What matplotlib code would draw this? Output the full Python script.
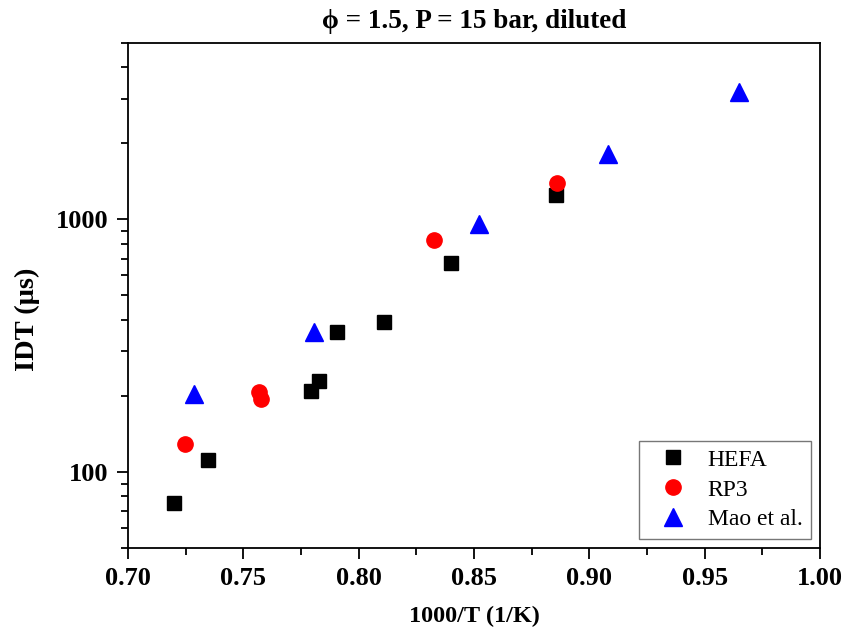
import matplotlib.pyplot as plt
from matplotlib.ticker import LogLocator, FixedLocator, NullFormatter, FuncFormatter

# HEFA measurements
hefa_x = [0.720, 0.7347, 0.7793, 0.7828, 0.7906, 0.811, 0.840, 0.8856]
hefa_y = [75.5, 111.5, 210, 230, 359, 393, 671, 1254]

# RP3 measurements
rp3_x = [0.7247, 0.7568, 0.7576, 0.8327, 0.886]
rp3_y = [129, 208, 194, 832, 1390]

# Mao et al.
mao_x = [0.7285, 0.7805, 0.852, 0.9079, 0.9648]
mao_y = [203, 359, 956, 1824, 3210]

x_ticks = [0.70, 0.75, 0.80, 0.85, 0.90, 0.95, 1.00]

plt.rcParams["font.family"] = ["Liberation Serif", "DejaVu Serif"]

fig = plt.figure(figsize=(8.48, 6.31), dpi=100)
ax = fig.add_axes([0.151, 0.1315, 0.816, 0.8005])

ax.plot(hefa_x, hefa_y, "s", color="black", markersize=10, label="HEFA", linestyle="none")
ax.plot(rp3_x, rp3_y, "o", color="red", markersize=11, label="RP3", linestyle="none")
ax.plot(mao_x, mao_y, "^", color="blue", markersize=13, label="Mao et al.", linestyle="none")

ax.set_yscale("log")
ax.set_xlim(0.70, 1.00)
ax.set_ylim(50, 5000)

ax.xaxis.set_major_locator(FixedLocator(x_ticks))
ax.xaxis.set_minor_locator(FixedLocator([0.725, 0.775, 0.825, 0.875, 0.925, 0.975]))
ax.xaxis.set_major_formatter(FuncFormatter(lambda v, p: "%.2f" % v))
ax.yaxis.set_major_locator(FixedLocator([100, 1000]))
ax.yaxis.set_major_formatter(FuncFormatter(lambda v, p: "%d" % v))
ax.yaxis.set_minor_locator(LogLocator(base=10, subs=range(2, 10)))
ax.yaxis.set_minor_formatter(NullFormatter())

ax.tick_params(which="major", direction="out", length=8, width=1.3, labelsize=19, pad=6)
ax.tick_params(which="minor", direction="out", length=5, width=1.3)
for lab in ax.get_xticklabels() + ax.get_yticklabels():
    lab.set_fontweight("bold")
for sp in ax.spines.values():
    sp.set_linewidth(1.3)

ax.set_xlabel("1000/T (1/K)", fontsize=17.5, fontweight="bold", labelpad=11)
ax.set_ylabel("IDT (\u03bcs)", fontsize=20.5, fontweight="bold")
ax.yaxis.set_label_coords(-0.127, 0.453)
ax.set_title("\u03d5 = 1.5, P = 15 bar, diluted", fontsize=19.5, fontweight="bold", pad=11)

leg = ax.legend(loc="lower right", fontsize=17, frameon=True, fancybox=False,
                edgecolor="#555555", handletextpad=0.35, borderpad=0.35,
                labelspacing=0.35, handlelength=2.2, borderaxespad=0.4)
leg.get_frame().set_linewidth(1.0)

fig.savefig("out.png", dpi=100)
